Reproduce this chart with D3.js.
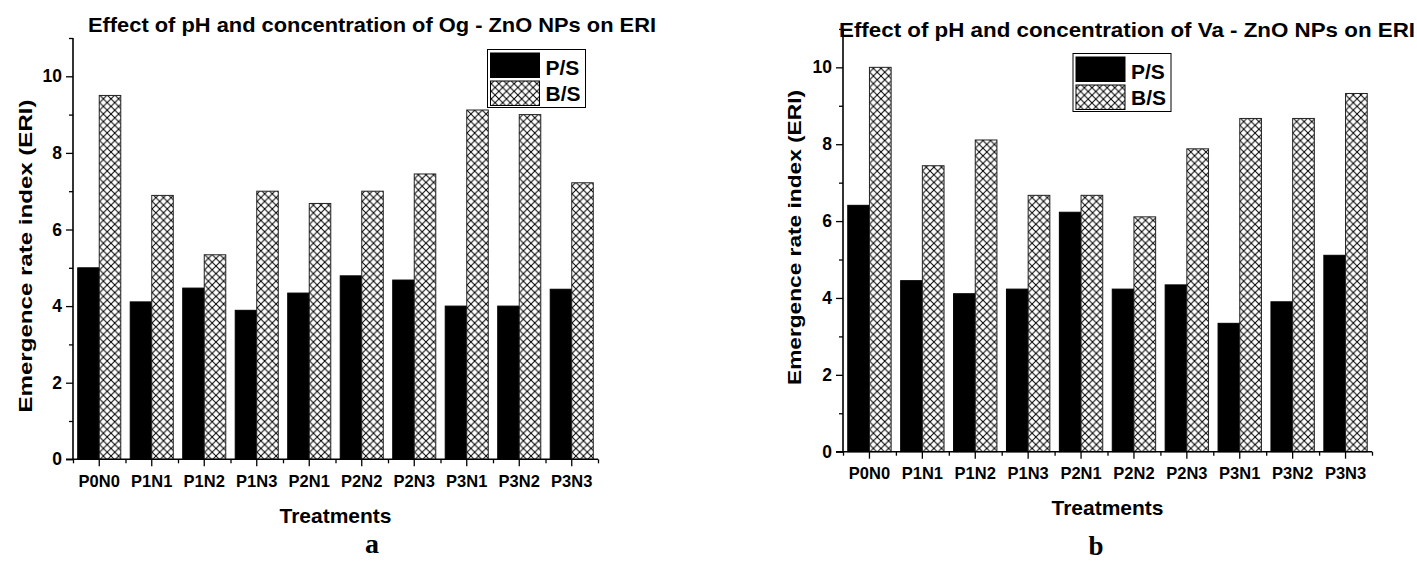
<!DOCTYPE html>
<html>
<head>
<meta charset="utf-8">
<script src="https://cdn.jsdelivr.net/npm/d3@7"></script>
<style>
  html, body { margin: 0; padding: 0; background: #fff; }
  svg { display: block; }
  text { font-family: "Liberation Sans", Arial, sans-serif; font-weight: bold; fill: #000; }
</style>
</head>
<body>
<svg id="chart" width="1417" height="563"></svg>
<script>
// ---------- data ----------
const categories = ["P0N0","P1N1","P1N2","P1N3","P2N1","P2N2","P2N3","P3N1","P3N2","P3N3"];
const seriesNames = ["P/S","B/S"];
const ogPS = [5.0, 4.11, 4.47, 3.89, 4.34, 4.79, 4.68, 4.0, 4.0, 4.44];
const ogBS = [9.5, 6.89, 5.34, 7.0, 6.68, 7.0, 7.45, 9.12, 9.0, 7.22];
const vaPS = [6.41, 4.45, 4.11, 4.23, 6.23, 4.23, 4.34, 3.34, 3.90, 5.11];
const vaBS = [10.0, 7.44, 8.11, 6.67, 6.67, 6.11, 7.88, 8.67, 8.67, 9.32];
const majorTicks = [0, 2, 4, 6, 8, 10];
const minorTicks = [1, 3, 5, 7, 9, 11];
const titleA = "Effect of pH and concentration of Og - ZnO NPs on ERI";
const titleB = "Effect of pH and concentration of Va - ZnO NPs on ERI";
const yTitle = "Emergence rate index (ERI)";
const xTitle = "Treatments";

const svg = d3.select("#chart");
const defs = svg.append("defs");
const P = 7.6;
const pat = defs.append("pattern").attr("id", "hatch")
  .attr("patternUnits", "userSpaceOnUse").attr("width", P).attr("height", P);
pat.append("rect").attr("width", P).attr("height", P).attr("fill", "#fff");
pat.append("path").attr("d", `M-1,-1 L${P+1},${P+1} M${P+1},-1 L-1,${P+1}`)
  .attr("stroke", "#000").attr("stroke-width", 1).attr("fill", "none");

function drawChart(cfg) {
  const g = svg.append("g");
  const y = d3.scaleLinear().domain([0, 11]).range([cfg.y0, cfg.yTop]);
  const x = d3.scaleBand().domain(categories).range([cfg.x0, cfg.x1]).padding(0);
  const bw = x.bandwidth();
  const half = bw * 0.41;
  const xs = d3.scaleBand().domain(seriesNames).range([bw / 2 - half, bw / 2 + half]).padding(0);
  const xm = d3.scaleLinear().domain([0, categories.length]).range([cfg.x0, cfg.x1]);

  const rows = categories.map((c, i) => ({ cat: c, vals: [cfg.ps[i], cfg.bs[i]] }));
  const grp = g.selectAll("g.grp").data(rows).join("g")
    .attr("transform", d => `translate(${x(d.cat)},0)`);
  grp.selectAll("rect").data(d => d.vals.map((v, k) => ({ k, v }))).join("rect")
    .attr("x", d => xs(seriesNames[d.k]))
    .attr("width", xs.bandwidth())
    .attr("y", d => y(d.v))
    .attr("height", d => y(0) - y(d.v))
    .attr("fill", d => d.k === 0 ? "#000" : "url(#hatch)")
    .attr("stroke", d => d.k === 0 ? "#000" : "#222")
    .attr("stroke-width", 1);

  // y axis
  const yMaj = g.append("g").attr("transform", `translate(${cfg.x0},0)`)
    .call(d3.axisLeft(y).tickValues(majorTicks).tickSize(7).tickPadding(4).tickFormat(d3.format("d")));
  yMaj.select(".domain").remove();
  yMaj.selectAll("text").style("font-size", "17.5px").style("font-family", "'Liberation Sans', Arial, sans-serif").style("font-weight", "bold");
  yMaj.selectAll("line").attr("stroke-width", 1.3);
  const yMin = g.append("g").attr("transform", `translate(${cfg.x0},0)`)
    .call(d3.axisLeft(y).tickValues(minorTicks).tickSize(4).tickFormat(""));
  yMin.select(".domain").remove();
  yMin.selectAll("line").attr("stroke-width", 1.3);
  g.append("line").attr("x1", cfg.x0).attr("x2", cfg.x0).attr("y1", y(0)).attr("y2", y(11))
    .attr("stroke", "#000").attr("stroke-width", 1.6);

  // x axis
  const xMaj = g.append("g").attr("transform", `translate(0,${cfg.y0})`)
    .call(d3.axisBottom(x).tickSize(7).tickPadding(9));
  xMaj.select(".domain").remove();
  xMaj.selectAll("text").style("font-size", "16.5px").style("font-family", "'Liberation Sans', Arial, sans-serif").style("font-weight", "bold");
  xMaj.selectAll("line").attr("stroke-width", 1.3);
  const xMin = g.append("g").attr("transform", `translate(0,${cfg.y0})`)
    .call(d3.axisBottom(xm).tickValues(d3.range(0, categories.length + 1)).tickSize(4).tickFormat(""));
  xMin.select(".domain").remove();
  xMin.selectAll("line").attr("stroke-width", 1.3);
  g.append("line").attr("x1", cfg.x0 - 7).attr("x2", cfg.x1).attr("y1", cfg.y0).attr("y2", cfg.y0)
    .attr("stroke", "#000").attr("stroke-width", 1.6);

  // titles
  g.append("text").attr("x", cfg.titleX).attr("y", cfg.titleY)
    .attr("textLength", cfg.titleW).attr("lengthAdjust", "spacingAndGlyphs")
    .style("font-size", "20.5px").text(cfg.title);
  g.append("text").attr("transform", `translate(${cfg.yLabX},${cfg.yLabY}) rotate(-90)`)
    .attr("text-anchor", "middle").attr("textLength", cfg.yLabW).attr("lengthAdjust", "spacingAndGlyphs")
    .style("font-size", "19px").text(yTitle);
  g.append("text").attr("x", (cfg.x0 + cfg.x1) / 2).attr("y", cfg.xLabY)
    .attr("text-anchor", "middle").style("font-size", "21px").text(xTitle);
  g.append("text").attr("x", cfg.letterX).attr("y", cfg.letterY)
    .attr("text-anchor", "middle")
    .style("font-family", "'Liberation Serif', 'Times New Roman', serif").style("font-size", cfg.letterSize)
    .text(cfg.letter);

  // legend
  const L = g.append("g").attr("transform", `translate(${cfg.legX},${cfg.legY})`);
  L.append("rect").attr("x", 0).attr("y", 0).attr("width", 98).attr("height", 58)
    .attr("fill", "#fff").attr("stroke", "#000").attr("stroke-width", 1);
  seriesNames.forEach((s, k) => {
    L.append("rect").attr("x", 3).attr("y", 3.5 + k * 28).attr("width", 49).attr("height", 24.5)
      .attr("fill", k === 0 ? "#000" : "url(#hatch)").attr("stroke", "#000").attr("stroke-width", 1);
    L.append("text").attr("x", 58).attr("y", 25 + k * 26.5).style("font-size", "21px").text(s);
  });
}

drawChart({
  x0: 73, x1: 598, y0: 459.3, yTop: 38, ps: ogPS, bs: ogBS,
  title: titleA, titleX: 88, titleY: 32, titleW: 568,
  yLabX: 32, yLabY: 256, yLabW: 313, xLabY: 523,
  letter: "a", letterX: 372, letterY: 553, letterSize: "28px",
  legX: 487.5, legY: 49.5
});
drawChart({
  x0: 843, x1: 1372, y0: 451.7, yTop: 28.9, ps: vaPS, bs: vaBS,
  title: titleB, titleX: 839, titleY: 37, titleW: 576,
  yLabX: 801, yLabY: 237.5, yLabW: 295, xLabY: 515,
  letter: "b", letterX: 1096, letterY: 555, letterSize: "27px",
  legX: 1073, legY: 53.5
});
</script>
</body>
</html>
